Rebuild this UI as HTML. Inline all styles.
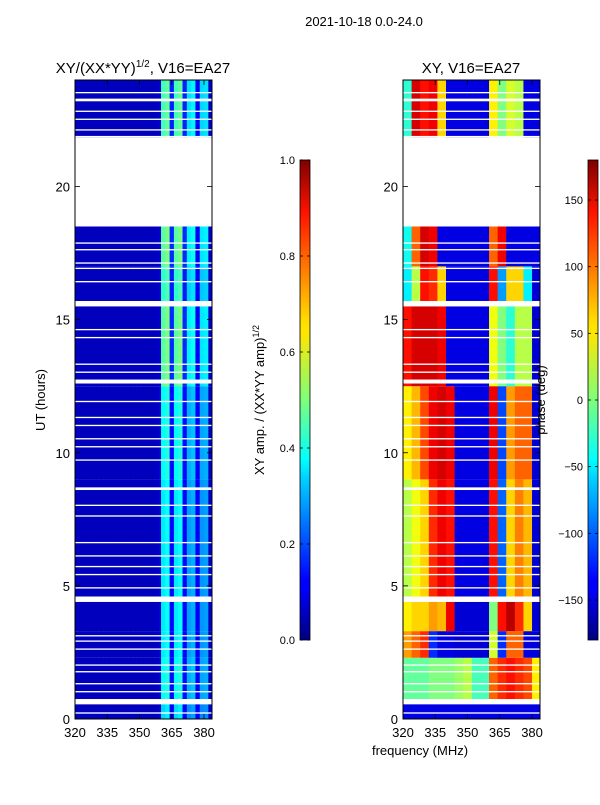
<!DOCTYPE html>
<html><head><meta charset="utf-8"><style>
body{margin:0;background:#fff;width:600px;height:800px;overflow:hidden}
svg text{font-family:"Liberation Sans",sans-serif;fill:#000}
</style></head><body>
<svg id="fig" width="600" height="800" xmlns="http://www.w3.org/2000/svg">
<defs>
<linearGradient id="jet" x1="0" y1="1" x2="0" y2="0">
<stop offset="0" stop-color="#00007f"/><stop offset="0.11" stop-color="#0000ff"/><stop offset="0.125" stop-color="#0000ff"/>
<stop offset="0.34" stop-color="#00d4ff"/><stop offset="0.375" stop-color="#00ffff"/><stop offset="0.5" stop-color="#7dff7a"/>
<stop offset="0.64" stop-color="#ffe600"/><stop offset="0.66" stop-color="#ffe000"/><stop offset="0.89" stop-color="#ff1300"/><stop offset="1" stop-color="#7f0000"/>
</linearGradient>
</defs>
<text x="364" y="26" font-size="13" text-anchor="middle">2021-10-18 0.0-24.0</text>
<text x="143" y="73" font-size="15" text-anchor="middle">XY/(XX*YY)<tspan font-size="10" dy="-6">1/2</tspan><tspan dy="6">, V16=EA27</tspan></text>
<text x="471" y="73" font-size="15" text-anchor="middle">XY, V16=EA27</text>
<g id="left"></g>
<g id="right"></g>
<g id="axes"></g>
<text transform="translate(45,400) rotate(-90)" font-size="13" text-anchor="middle">UT (hours)</text>
<text x="420" y="755" font-size="13" text-anchor="middle">frequency (MHz)</text>
<rect x="300" y="160" width="10" height="480" fill="url(#jet)" stroke="#000" stroke-width="0.8"/>
<rect x="588" y="160" width="10" height="480" fill="url(#jet)" stroke="#000" stroke-width="0.8"/>
<text transform="translate(264,400) rotate(-90)" font-size="13" text-anchor="middle">XY amp. / (XX*YY amp)<tspan font-size="9" dy="-5">1/2</tspan></text>
<text transform="translate(545,400) rotate(-90)" font-size="13" text-anchor="middle">phase (deg)</text>
<g id="cbticks"></g>
</svg>
<script>
const NS='http://www.w3.org/2000/svg';
// frequency bins (MHz, 2 MHz wide)
const ampBinStarts=[320,322,324,326,328,330,332,334,336,338,340,342,344,346,348,350,352,354,356,358,360,362,364,366,368,370,372,374,376,378,380,382];
const ampProfile=[0.06,0.06,0.06,0.06,0.06,0.06,0.06,0.06,0.06,0.06,0.06,0.06,0.06,0.06,0.06,0.06,0.06,0.06,0.06,0.07,0.42,0.45,0.15,0.42,0.45,0.15,0.33,0.35,0.12,0.32,0.33,0.07];
// time bands [start hour, end hour]
const bandStarts=[0,0.7,2.3,3.3,4.6,9.0,12.5,15.7,17.0,21.8];
const bandEnds=[0.6,2.3,3.3,4.4,9.0,12.5,15.5,17.0,18.5,24];
const ampBandScale=[0.8,0.9,0.85,0.85,0.85,0.9,1.1,1.0,1.1,1.05];
// phase profiles (deg), 4 MHz bins
const phaseBinStarts=[320,324,328,332,336,340,344,348,352,356,360,364,368,372,376,380];
const phaseBands=[
[-145,-145,-145,-145,-145,-145,-145,-145,-145,-145,-145,-145,-145,-145,-145,-145],
[-10,-10,-10,0,0,0,10,20,-20,-20,100,120,130,120,110,50],
[80,100,120,-120,-145,-145,-150,-150,-150,-150,30,-120,100,100,-145,-150],
[50,60,60,80,70,140,-150,-150,-150,-150,0,130,160,120,60,-150],
[20,40,60,120,140,130,-145,-145,-145,-145,130,-100,60,90,70,-150],
[50,70,110,140,150,140,-145,-145,-145,-145,140,-110,80,100,100,-150],
[130,150,150,150,140,-145,-145,-145,-145,-145,40,0,-30,20,20,-150],
[-50,20,130,120,60,-145,-145,-145,-145,-145,130,-80,60,60,-50,-150],
[-40,100,150,140,-145,-145,-145,-145,-145,-145,100,140,-145,-145,-145,-145],
[-30,150,130,140,60,-145,-145,-145,-145,-145,50,0,30,20,-145,-145]];
// flagged (white) time ranges
const gapStarts=[0.2,0.55,1.0,1.3,1.75,2.0,2.6,2.9,3.1,4.4,4.9,5.4,5.7,6.1,6.6,7.6,8.0,8.6,9.7,10.2,10.5,11.0,11.3,11.9,12.6,13.0,13.3,14.3,14.6,15.5,16.4,16.9,17.1,17.6,17.85,18.5,21.85,22.1,22.5,22.8,23.2,23.5];
const gapEnds=[0.25,0.75,1.05,1.35,1.8,2.05,2.65,2.95,3.15,4.6,4.95,5.45,5.75,6.15,6.65,7.65,8.05,8.7,9.75,10.25,10.55,11.05,11.35,11.95,12.75,13.05,13.35,14.35,14.65,15.7,16.45,16.95,17.15,17.65,17.9,21.85,21.9,22.15,22.55,22.85,23.3,23.55];
const freqTicks=[320,335,350,365,380];
const hourTicks=[0,5,10,15,20];
const ampCbTicks=[0,0.2,0.4,0.6,0.8,1.0];
const phaseCbTicks=[-150,-100,-50,0,50,100,150];

const Y0=719,Y1=80;
const yOf=h=>Y0-(Y0-Y1)*h/24;
const xOf=(f,x0)=>x0+(f-320)*(137/63.7);
function jet(v){v=Math.max(0,Math.min(1,v));
 const r=Math.min(4*v-1.5,-4*v+4.5),g=Math.min(4*v-0.5,-4*v+3.5),b=Math.min(4*v+0.5,-4*v+2.5);
 const c=x=>Math.round(255*Math.max(0,Math.min(1,x)));return `rgb(${c(r)},${c(g)},${c(b)})`;}
function rect(g,x,y,w,h,fill,name){const r=document.createElementNS(NS,'rect');
 r.setAttribute('x',x);r.setAttribute('y',y);r.setAttribute('width',w);r.setAttribute('height',h);r.setAttribute('fill',fill);
 
 
 g.appendChild(r);}
const L=document.getElementById('left'),R=document.getElementById('right');
for(let b=0;b<bandStarts.length;b++){
 const ya=yOf(bandEnds[b]),yb=yOf(bandStarts[b]);
 for(let i=0;i<ampBinStarts.length;i++){
  const x=xOf(ampBinStarts[i],75),x2=Math.min(212,xOf(ampBinStarts[i]+2,75));
  rect(L,x,ya,x2-x+0.5,yb-ya,jet(ampProfile[i]*(ampProfile[i]>0.12?ampBandScale[b]:1)),'amp-cell');}
 for(let i=0;i<phaseBinStarts.length;i++){
  const x=xOf(phaseBinStarts[i],403),x2=Math.min(540,xOf(phaseBinStarts[i]+4,403));
  rect(R,x,ya,x2-x+0.5,yb-ya,jet((phaseBands[b][i]+180)/360),'phase-cell');}
}
for(const g of [L,R]){
 const x0=g===L?75:403;
 for(let k=0;k<gapStarts.length;k++){const ya=yOf(gapEnds[k]),yb=yOf(gapStarts[k]);
  rect(g,x0,ya,137,Math.max(1.2,yb-ya),'#fff','flagged-gap');}
}
const A=document.getElementById('axes');
function line(g,x1,y1,x2,y2,name){const l=document.createElementNS(NS,'line');
 l.setAttribute('x1',x1);l.setAttribute('y1',y1);l.setAttribute('x2',x2);l.setAttribute('y2',y2);l.setAttribute('stroke','#000');l.setAttribute('stroke-width','0.8');
 
 
 g.appendChild(l);}
function text(g,x,y,s,anchor,size,name){const t=document.createElementNS(NS,'text');
 t.setAttribute('x',x);t.setAttribute('y',y);t.setAttribute('font-size',size);t.setAttribute('text-anchor',anchor);t.textContent=s;
 
 
 g.appendChild(t);}
for(const x0 of [75,403]){
 const fr=document.createElementNS(NS,'rect');fr.setAttribute('x',x0);fr.setAttribute('y',Y1);fr.setAttribute('width',137);fr.setAttribute('height',Y0-Y1);
 fr.setAttribute('fill','none');fr.setAttribute('stroke','#000');
 
 
 A.appendChild(fr);
 for(const f of freqTicks){const x=xOf(f,x0);line(A,x,Y0,x,Y0-5,'x-tick');line(A,x,Y1,x,Y1+5,'x-tick');text(A,x,737,String(f),'middle',13,'x-tick-label');}
 for(const h of hourTicks){const y=yOf(h);line(A,x0,y,x0+5,y,'y-tick');line(A,x0+137,y,x0+132,y,'y-tick');text(A,x0-5,y+5,String(h),'end',13,'y-tick-label');}
}
const C=document.getElementById('cbticks');
for(const v of ampCbTicks){const y=640-480*v;line(C,300,y,303,y,'cb-tick');line(C,310,y,307,y,'cb-tick');text(C,295,y+4,v.toFixed(1),'end',11,'amp-cb-tick-label');}
for(const v of phaseCbTicks){const y=640-480*(v+180)/360;line(C,588,y,591,y,'cb-tick');line(C,598,y,595,y,'cb-tick');text(C,583,y+4,String(v).replace('-','\u2212'),'end',11,'phase-cb-tick-label');}
</script>
</body></html>
